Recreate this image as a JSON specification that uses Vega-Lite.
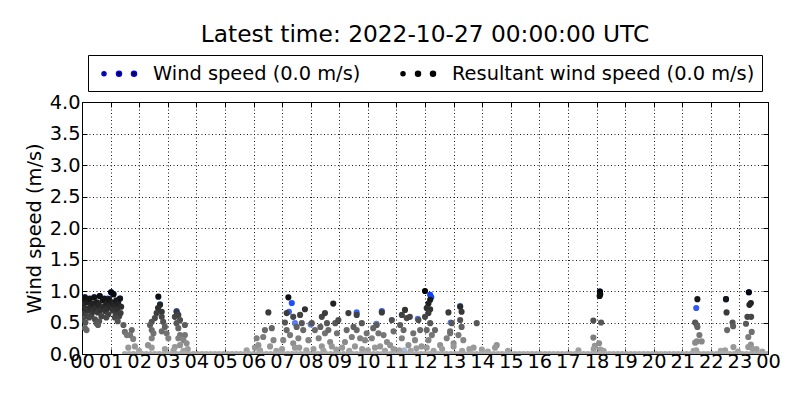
{
  "$schema": "https://vega.github.io/schema/vega-lite/v6.json",
  "width": 686,
  "height": 252,
  "autosize": {"type": "none"},
  "padding": {"left": 82, "top": 102, "right": 32, "bottom": 46},
  "background": "white",
  "config": {
    "font": "DejaVu Sans",
    "view": {"stroke": "#000", "strokeWidth": 1},
    "axis": {
      "labelFont": "DejaVu Sans", "labelFontSize": 19.4, "labelColor": "#000",
      "titleFont": "DejaVu Sans", "titleFontSize": 19.4, "titleFontWeight": "normal", "titleColor": "#000",
      "tickColor": "#000", "tickSize": -5, "tickWidth": 1,
      "domain": false,
      "gridColor": "#000", "gridDash": [1, 2.5], "gridWidth": 0.9, "gridOpacity": 1
    }
  },
  "title": {"text": "Latest time: 2022-10-27 00:00:00 UTC", "fontSize": 23.3, "fontWeight": "normal", "color": "#000", "font": "DejaVu Sans", "offset": 7},
  "datasets": {
    "ws": [
      {"t": 0.1, "v": 0.9}, {"t": 0.43, "v": 0.9}, {"t": 0.62, "v": 0.92}, {"t": 0.9, "v": 0.88}, {"t": 1.02, "v": 0.98}, {"t": 1.1, "v": 0.95}, {"t": 1.33, "v": 0.88},
      {"t": 2.73, "v": 0.79}, {"t": 3.31, "v": 0.68}, {"t": 7.24, "v": 0.67}, {"t": 7.34, "v": 0.81}, {"t": 7.45, "v": 0.49}, {"t": 8.0, "v": 0.47},
      {"t": 9.61, "v": 0.66}, {"t": 10.3, "v": 0.48}, {"t": 10.49, "v": 0.68}, {"t": 11.27, "v": 0.06}, {"t": 11.75, "v": 0.56}, {"t": 12.18, "v": 0.94},
      {"t": 12.22, "v": 0.9}, {"t": 12.9, "v": 0.5}, {"t": 13.23, "v": 0.76}, {"t": 18.12, "v": 0.99}, {"t": 21.49, "v": 0.73}, {"t": 22.53, "v": 0.87}, {"t": 23.33, "v": 0.98}
    ],
    "rws": [
      {"t": 0.02, "v": 0.85}, {"t": 0.05, "v": 0.78}, {"t": 0.08, "v": 0.65}, {"t": 0.1, "v": 0.9}, {"t": 0.13, "v": 0.72}, {"t": 0.17, "v": 0.6},
      {"t": 0.2, "v": 0.82}, {"t": 0.23, "v": 0.7}, {"t": 0.27, "v": 0.88}, {"t": 0.3, "v": 0.75}, {"t": 0.33, "v": 0.62}, {"t": 0.37, "v": 0.8},
      {"t": 0.4, "v": 0.68}, {"t": 0.43, "v": 0.9}, {"t": 0.47, "v": 0.73}, {"t": 0.52, "v": 0.82}, {"t": 0.55, "v": 0.66}, {"t": 0.58, "v": 0.78},
      {"t": 0.62, "v": 0.92}, {"t": 0.65, "v": 0.7}, {"t": 0.68, "v": 0.6}, {"t": 0.72, "v": 0.85}, {"t": 0.75, "v": 0.75}, {"t": 0.78, "v": 0.88},
      {"t": 0.82, "v": 0.68}, {"t": 0.85, "v": 0.8}, {"t": 0.88, "v": 0.72}, {"t": 0.92, "v": 0.63}, {"t": 0.95, "v": 0.87}, {"t": 0.98, "v": 0.76},
      {"t": 1.02, "v": 0.98}, {"t": 1.05, "v": 0.82}, {"t": 1.08, "v": 0.7}, {"t": 1.1, "v": 0.95}, {"t": 1.13, "v": 0.78}, {"t": 1.17, "v": 0.65},
      {"t": 1.2, "v": 0.85}, {"t": 1.23, "v": 0.72}, {"t": 1.27, "v": 0.8}, {"t": 1.3, "v": 0.6}, {"t": 1.33, "v": 0.88}, {"t": 1.37, "v": 0.75},
      {"t": 0.03, "v": 0.55}, {"t": 0.12, "v": 0.5}, {"t": 0.25, "v": 0.58}, {"t": 0.45, "v": 0.55}, {"t": 0.6, "v": 0.52}, {"t": 0.85, "v": 0.58},
      {"t": 1.15, "v": 0.58}, {"t": 1.25, "v": 0.52}, {"t": 1.35, "v": 0.65}, {"t": 0.16, "v": 0.38}, {"t": 0.1, "v": 0.41}, {"t": 0.51, "v": 0.49}, {"t": 0.56, "v": 0.46},
      {"t": 1.45, "v": 0.46}, {"t": 1.74, "v": 0.38}, {"t": 1.68, "v": 0.3}, {"t": 1.79, "v": 0.24}, {"t": 1.5, "v": 0.35}, {"t": 1.57, "v": 0.3},
      {"t": 1.62, "v": 0.1}, {"t": 1.85, "v": 0.12}, {"t": 2.44, "v": 0.1}, {"t": 2.31, "v": 0.14}, {"t": 2.44, "v": 0.25},
      {"t": 2.67, "v": 0.91}, {"t": 2.73, "v": 0.78}, {"t": 2.66, "v": 0.73}, {"t": 2.79, "v": 0.67}, {"t": 2.61, "v": 0.65}, {"t": 2.79, "v": 0.59},
      {"t": 2.55, "v": 0.57}, {"t": 2.44, "v": 0.51}, {"t": 2.84, "v": 0.51}, {"t": 2.38, "v": 0.46}, {"t": 2.9, "v": 0.43}, {"t": 2.44, "v": 0.38},
      {"t": 2.96, "v": 0.33}, {"t": 2.5, "v": 0.33}, {"t": 3.02, "v": 0.25}, {"t": 2.79, "v": 0.36},
      {"t": 3.31, "v": 0.67}, {"t": 3.37, "v": 0.62}, {"t": 3.25, "v": 0.59}, {"t": 3.43, "v": 0.54}, {"t": 3.31, "v": 0.49}, {"t": 3.6, "v": 0.46},
      {"t": 3.37, "v": 0.41}, {"t": 3.43, "v": 0.3}, {"t": 3.6, "v": 0.3}, {"t": 3.37, "v": 0.25}, {"t": 3.55, "v": 0.22}, {"t": 3.43, "v": 0.14},
      {"t": 3.66, "v": 0.17}, {"t": 3.25, "v": 0.11}, {"t": 3.7, "v": 0.08},
      {"t": 5.76, "v": 0.06}, {"t": 6.05, "v": 0.1},
      {"t": 6.11, "v": 0.25}, {"t": 6.17, "v": 0.14}, {"t": 6.4, "v": 0.38}, {"t": 6.52, "v": 0.66}, {"t": 6.64, "v": 0.41}, {"t": 6.34, "v": 0.27},
      {"t": 6.7, "v": 0.22}, {"t": 6.58, "v": 0.12}, {"t": 6.23, "v": 0.06},
      {"t": 7.22, "v": 0.9}, {"t": 7.1, "v": 0.5}, {"t": 7.39, "v": 0.59}, {"t": 7.16, "v": 0.65}, {"t": 7.16, "v": 0.38}, {"t": 7.28, "v": 0.3},
      {"t": 7.04, "v": 0.22}, {"t": 7.39, "v": 0.17}, {"t": 7.63, "v": 0.62}, {"t": 7.69, "v": 0.49}, {"t": 7.51, "v": 0.43}, {"t": 7.57, "v": 0.25},
      {"t": 7.8, "v": 0.71}, {"t": 7.74, "v": 0.38}, {"t": 7.92, "v": 0.22}, {"t": 7.45, "v": 0.1},
      {"t": 8.04, "v": 0.49}, {"t": 8.39, "v": 0.59}, {"t": 8.5, "v": 0.65}, {"t": 8.34, "v": 0.43}, {"t": 8.57, "v": 0.49}, {"t": 8.15, "v": 0.38},
      {"t": 8.5, "v": 0.33}, {"t": 8.62, "v": 0.38}, {"t": 8.28, "v": 0.25}, {"t": 8.68, "v": 0.19}, {"t": 8.39, "v": 0.12}, {"t": 8.79, "v": 0.8},
      {"t": 8.86, "v": 0.49}, {"t": 8.97, "v": 0.54}, {"t": 8.92, "v": 0.33}, {"t": 8.74, "v": 0.12},
      {"t": 9.32, "v": 0.65}, {"t": 9.61, "v": 0.62}, {"t": 9.79, "v": 0.49}, {"t": 9.5, "v": 0.43}, {"t": 9.26, "v": 0.38}, {"t": 9.61, "v": 0.38},
      {"t": 9.44, "v": 0.27}, {"t": 9.73, "v": 0.25}, {"t": 9.2, "v": 0.19}, {"t": 9.55, "v": 0.12}, {"t": 9.9, "v": 0.22}, {"t": 9.96, "v": 0.33},
      {"t": 10.49, "v": 0.66}, {"t": 10.31, "v": 0.46}, {"t": 10.19, "v": 0.41}, {"t": 10.37, "v": 0.33}, {"t": 10.55, "v": 0.3}, {"t": 10.14, "v": 0.25},
      {"t": 10.67, "v": 0.19}, {"t": 10.43, "v": 0.12}, {"t": 10.84, "v": 0.54}, {"t": 10.9, "v": 0.36}, {"t": 10.78, "v": 0.14},
      {"t": 11.3, "v": 0.7}, {"t": 11.19, "v": 0.62}, {"t": 11.13, "v": 0.46}, {"t": 11.36, "v": 0.57}, {"t": 11.47, "v": 0.59}, {"t": 11.25, "v": 0.38},
      {"t": 11.59, "v": 0.33}, {"t": 11.19, "v": 0.25}, {"t": 11.42, "v": 0.14}, {"t": 11.77, "v": 0.54}, {"t": 11.83, "v": 0.38}, {"t": 11.65, "v": 0.22},
      {"t": 11.88, "v": 0.12},
      {"t": 12.0, "v": 1.0}, {"t": 12.18, "v": 0.86}, {"t": 12.12, "v": 0.8}, {"t": 12.06, "v": 0.73}, {"t": 12.18, "v": 0.71}, {"t": 12.12, "v": 0.65},
      {"t": 12.0, "v": 0.59}, {"t": 12.18, "v": 0.49}, {"t": 12.06, "v": 0.38}, {"t": 12.24, "v": 0.3}, {"t": 12.12, "v": 0.22}, {"t": 12.06, "v": 0.1},
      {"t": 12.82, "v": 0.66}, {"t": 12.94, "v": 0.49}, {"t": 12.88, "v": 0.33}, {"t": 12.76, "v": 0.25}, {"t": 13.0, "v": 0.17}, {"t": 12.53, "v": 0.14},
      {"t": 12.35, "v": 0.38}, {"t": 12.88, "v": 0.36},
      {"t": 13.23, "v": 0.75}, {"t": 13.28, "v": 0.67}, {"t": 13.23, "v": 0.54}, {"t": 13.28, "v": 0.43}, {"t": 13.17, "v": 0.3}, {"t": 13.34, "v": 0.22},
      {"t": 13.0, "v": 0.12}, {"t": 13.81, "v": 0.49}, {"t": 13.99, "v": 0.07}, {"t": 14.51, "v": 0.14}, {"t": 13.7, "v": 0.1},
      {"t": 17.37, "v": 0.06}, {"t": 18.12, "v": 0.99}, {"t": 18.13, "v": 0.95}, {"t": 18.11, "v": 0.92}, {"t": 17.89, "v": 0.53}, {"t": 18.16, "v": 0.5},
      {"t": 17.89, "v": 0.26}, {"t": 18.09, "v": 0.17}, {"t": 17.94, "v": 0.13}, {"t": 18.14, "v": 0.07},
      {"t": 21.53, "v": 0.87}, {"t": 21.45, "v": 0.5}, {"t": 21.51, "v": 0.46}, {"t": 21.53, "v": 0.43}, {"t": 21.6, "v": 0.3}, {"t": 21.51, "v": 0.2},
      {"t": 21.68, "v": 0.2}, {"t": 21.45, "v": 0.18}, {"t": 21.49, "v": 0.06},
      {"t": 22.53, "v": 0.87}, {"t": 22.55, "v": 0.66}, {"t": 22.76, "v": 0.5}, {"t": 22.78, "v": 0.44}, {"t": 22.57, "v": 0.38}, {"t": 22.79, "v": 0.11},
      {"t": 22.5, "v": 0.06},
      {"t": 23.33, "v": 0.98}, {"t": 23.4, "v": 0.81}, {"t": 23.35, "v": 0.78}, {"t": 23.28, "v": 0.59}, {"t": 23.41, "v": 0.59}, {"t": 23.23, "v": 0.48},
      {"t": 23.43, "v": 0.35}, {"t": 23.31, "v": 0.27}, {"t": 23.4, "v": 0.15}, {"t": 23.31, "v": 0.11}, {"t": 23.47, "v": 0.08},
      {"t": 6.8, "v": 0.05}, {"t": 7.0, "v": 0.08}, {"t": 7.6, "v": 0.1}, {"t": 7.85, "v": 0.06}, {"t": 8.1, "v": 0.08}, {"t": 8.45, "v": 0.05},
      {"t": 8.9, "v": 0.07}, {"t": 9.1, "v": 0.1}, {"t": 9.35, "v": 0.05}, {"t": 9.8, "v": 0.08}, {"t": 10.0, "v": 0.06}, {"t": 10.25, "v": 0.1},
      {"t": 10.6, "v": 0.05}, {"t": 10.9, "v": 0.08}, {"t": 11.1, "v": 0.06}, {"t": 11.5, "v": 0.05}, {"t": 11.7, "v": 0.09}, {"t": 12.3, "v": 0.05},
      {"t": 12.6, "v": 0.08}, {"t": 13.3, "v": 0.05}, {"t": 13.55, "v": 0.08}, {"t": 14.2, "v": 0.04}, {"t": 14.45, "v": 0.1}, {"t": 14.9, "v": 0.05},
      {"t": 2.0, "v": 0.05}, {"t": 2.9, "v": 0.08}, {"t": 3.2, "v": 0.06}, {"t": 3.55, "v": 0.05}, {"t": 21.4, "v": 0.05}, {"t": 22.35, "v": 0.05},
      {"t": 22.95, "v": 0.04}, {"t": 23.6, "v": 0.08}, {"t": 23.8, "v": 0.04}, {"t": 17.9, "v": 0.08}, {"t": 18.25, "v": 0.05},
      {"t": 1.5, "v": 0}, {"t": 1.65, "v": 0}, {"t": 1.8, "v": 0}, {"t": 1.95, "v": 0}, {"t": 2.1, "v": 0}, {"t": 2.25, "v": 0}, {"t": 2.4, "v": 0},
      {"t": 2.55, "v": 0}, {"t": 2.7, "v": 0}, {"t": 2.85, "v": 0}, {"t": 3.0, "v": 0}, {"t": 3.15, "v": 0}, {"t": 3.3, "v": 0}, {"t": 3.45, "v": 0},
      {"t": 3.6, "v": 0}, {"t": 3.75, "v": 0}, {"t": 3.9, "v": 0}, {"t": 4.05, "v": 0}, {"t": 4.2, "v": 0}, {"t": 4.35, "v": 0}, {"t": 4.5, "v": 0},
      {"t": 4.65, "v": 0}, {"t": 4.8, "v": 0}, {"t": 4.95, "v": 0}, {"t": 5.1, "v": 0}, {"t": 5.25, "v": 0}, {"t": 5.4, "v": 0}, {"t": 5.55, "v": 0},
      {"t": 5.7, "v": 0}, {"t": 5.85, "v": 0}, {"t": 6.0, "v": 0}, {"t": 6.15, "v": 0}, {"t": 6.3, "v": 0}, {"t": 6.45, "v": 0}, {"t": 6.6, "v": 0},
      {"t": 6.75, "v": 0}, {"t": 6.9, "v": 0}, {"t": 7.05, "v": 0}, {"t": 7.2, "v": 0}, {"t": 7.35, "v": 0}, {"t": 7.5, "v": 0}, {"t": 7.65, "v": 0},
      {"t": 7.8, "v": 0}, {"t": 7.95, "v": 0}, {"t": 8.1, "v": 0}, {"t": 8.25, "v": 0}, {"t": 8.4, "v": 0}, {"t": 8.55, "v": 0}, {"t": 8.7, "v": 0},
      {"t": 8.85, "v": 0}, {"t": 9.0, "v": 0}, {"t": 9.15, "v": 0}, {"t": 9.3, "v": 0}, {"t": 9.45, "v": 0}, {"t": 9.6, "v": 0}, {"t": 9.75, "v": 0},
      {"t": 9.9, "v": 0}, {"t": 10.05, "v": 0}, {"t": 10.2, "v": 0}, {"t": 10.35, "v": 0}, {"t": 10.5, "v": 0}, {"t": 10.65, "v": 0}, {"t": 10.8, "v": 0},
      {"t": 10.95, "v": 0}, {"t": 11.1, "v": 0}, {"t": 11.25, "v": 0}, {"t": 11.4, "v": 0}, {"t": 11.55, "v": 0}, {"t": 11.7, "v": 0}, {"t": 11.85, "v": 0},
      {"t": 12.0, "v": 0}, {"t": 12.15, "v": 0}, {"t": 12.3, "v": 0}, {"t": 12.45, "v": 0}, {"t": 12.6, "v": 0}, {"t": 12.75, "v": 0}, {"t": 12.9, "v": 0},
      {"t": 13.05, "v": 0}, {"t": 13.2, "v": 0}, {"t": 13.35, "v": 0}, {"t": 13.5, "v": 0}, {"t": 13.65, "v": 0}, {"t": 13.8, "v": 0}, {"t": 13.95, "v": 0},
      {"t": 14.1, "v": 0}, {"t": 14.25, "v": 0}, {"t": 14.4, "v": 0}, {"t": 14.55, "v": 0}, {"t": 14.7, "v": 0}, {"t": 14.85, "v": 0}, {"t": 15.0, "v": 0},
      {"t": 15.15, "v": 0}, {"t": 15.3, "v": 0}, {"t": 15.45, "v": 0}, {"t": 15.6, "v": 0}, {"t": 15.75, "v": 0}, {"t": 15.9, "v": 0}, {"t": 16.05, "v": 0},
      {"t": 16.2, "v": 0}, {"t": 16.35, "v": 0}, {"t": 16.5, "v": 0}, {"t": 16.65, "v": 0}, {"t": 16.8, "v": 0}, {"t": 16.95, "v": 0}, {"t": 17.1, "v": 0},
      {"t": 17.25, "v": 0}, {"t": 17.4, "v": 0}, {"t": 17.55, "v": 0}, {"t": 17.7, "v": 0}, {"t": 17.85, "v": 0}, {"t": 18.0, "v": 0}, {"t": 18.15, "v": 0},
      {"t": 18.3, "v": 0}, {"t": 18.45, "v": 0}, {"t": 18.6, "v": 0}, {"t": 18.75, "v": 0}, {"t": 18.9, "v": 0}, {"t": 19.05, "v": 0}, {"t": 19.2, "v": 0},
      {"t": 19.35, "v": 0}, {"t": 19.5, "v": 0}, {"t": 19.65, "v": 0}, {"t": 19.8, "v": 0}, {"t": 19.95, "v": 0}, {"t": 20.1, "v": 0}, {"t": 20.25, "v": 0},
      {"t": 20.4, "v": 0}, {"t": 20.55, "v": 0}, {"t": 20.7, "v": 0}, {"t": 20.85, "v": 0}, {"t": 21.0, "v": 0}, {"t": 21.15, "v": 0}, {"t": 21.3, "v": 0},
      {"t": 21.45, "v": 0}, {"t": 21.6, "v": 0}, {"t": 21.75, "v": 0}, {"t": 21.9, "v": 0}, {"t": 22.05, "v": 0}, {"t": 22.2, "v": 0}, {"t": 22.35, "v": 0},
      {"t": 22.5, "v": 0}, {"t": 22.65, "v": 0}, {"t": 22.8, "v": 0}, {"t": 22.95, "v": 0}, {"t": 23.1, "v": 0}, {"t": 23.25, "v": 0}, {"t": 23.4, "v": 0},
      {"t": 23.55, "v": 0}, {"t": 23.7, "v": 0}, {"t": 23.85, "v": 0}, {"t": 24.0, "v": 0}
    ]
  },
  "layer": [
    {
      "data": {"name": "ws"},
      "mark": {"type": "circle", "size": 38, "opacity": 1, "strokeWidth": 0, "clip": true},
      "encoding": {
        "x": {"field": "t", "type": "quantitative", "scale": {"domain": [0, 24], "nice": false, "zero": false},
              "axis": {"orient": "bottom", "title": null, "grid": true, "values": [0,1,2,3,4,5,6,7,8,9,10,11,12,13,14,15,16,17,18,19,20,21,22,23,24],
                       "labelExpr": "datum.value == 24 ? '00' : (datum.value < 10 ? '0' + datum.value : '' + datum.value)", "labelPadding": 3, "labelFlush": false, "labelOverlap": false}},
        "y": {"field": "v", "type": "quantitative", "scale": {"domain": [0, 4], "nice": false},
              "axis": {"orient": "left", "title": "Wind speed (m/s)", "grid": true, "values": [0,0.5,1,1.5,2,2.5,3,3.5,4], "format": ".1f", "labelPadding": 7, "titlePadding": 5, "labelFlush": false, "labelOverlap": false}},
        "color": {"field": "v", "type": "quantitative", "scale": {"domain": [0, 1], "range": ["#b0c4de", "#0033ff"], "clamp": true, "interpolate": "rgb"}, "legend": null},
        "stroke": {"datum": "Wind speed (0.0 m/s)", "type": "nominal",
                   "scale": {"domain": ["Wind speed (0.0 m/s)", "Resultant wind speed (0.0 m/s)"], "range": ["#0000ff", "#000000"]},
                   "legend": {"orient": "none", "legendX": 6, "legendY": -47, "direction": "horizontal", "title": null,
                              "strokeColor": "#000", "fillColor": "#fff", "padding": 7.5, "columnPadding": 34, "labelOffset": 35.5,
                              "labelFont": "DejaVu Sans", "labelFontSize": 19.4, "labelColor": "#000", "labelLimit": 400,
                              "symbolSize": 400,
                              "symbolType": "M-0.45,0a0.2,0.2 0 1,0 0.4,0a0.2,0.2 0 1,0 -0.4,0Z M1.0,0a0.25,0.25 0 1,0 0.5,0a0.25,0.25 0 1,0 -0.5,0Z M2.5,0a0.25,0.25 0 1,0 0.5,0a0.25,0.25 0 1,0 -0.5,0Z",
                              "encode": {"symbols": {"update": {"fill": {"signal": "datum.value === 'Wind speed (0.0 m/s)' ? '#0000ff' : '#000000'"}, "strokeWidth": {"value": 0}, "opacity": {"value": 1}, "fillOpacity": {"value": 1}}}}}}
      }
    },
    {
      "data": {"name": "rws"},
      "mark": {"type": "circle", "size": 38, "opacity": 1, "strokeWidth": 0, "clip": true},
      "encoding": {
        "x": {"field": "t", "type": "quantitative", "axis": null},
        "y": {"field": "v", "type": "quantitative", "axis": null},
        "color": {"field": "v", "type": "quantitative", "scale": {"domain": [0, 1], "range": ["#aaaaaa", "#000000"], "clamp": true, "interpolate": "rgb"}, "legend": null},
        "stroke": {"datum": "Resultant wind speed (0.0 m/s)", "type": "nominal"}
      }
    },
    {
      "data": {"name": "ws"},
      "mark": {"type": "circle", "opacity": 0},
      "encoding": {
        "x": {"field": "t", "type": "quantitative", "axis": {"orient": "top", "labels": false, "grid": false, "title": null, "values": [0,1,2,3,4,5,6,7,8,9,10,11,12,13,14,15,16,17,18,19,20,21,22,23,24]}},
        "y": {"field": "v", "type": "quantitative", "axis": {"orient": "right", "labels": false, "grid": false, "title": null, "values": [0,0.5,1,1.5,2,2.5,3,3.5,4]}}
      }
    }
  ],
  "resolve": {"scale": {"color": "independent"}, "axis": {"x": "independent", "y": "independent"}}
}
